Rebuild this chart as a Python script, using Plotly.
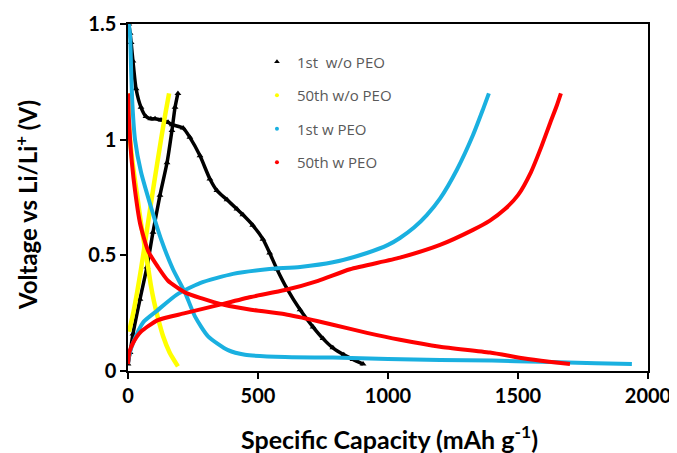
import plotly.graph_objects as go

# 1st cycle without PEO (black, triangles)
blk_dis_x = [3, 8, 12, 19, 31, 50, 69, 88, 104, 127, 154, 170, 212, 238, 277, 315, 342, 381, 419, 442, 480, 519, 545, 573, 612, 662, 712, 750, 788, 830, 865, 904]
blk_dis_y = [1.5, 1.46, 1.42, 1.34, 1.22, 1.14, 1.10, 1.09, 1.09, 1.085, 1.075, 1.065, 1.05, 1.01, 0.93, 0.83, 0.78, 0.74, 0.70, 0.675, 0.63, 0.57, 0.51, 0.44, 0.355, 0.265, 0.19, 0.14, 0.10, 0.07, 0.05, 0.03]
blk_chg_x = [0, 8, 19, 46, 73, 96, 123, 150, 169, 181, 192]
blk_chg_y = [0.03, 0.08, 0.16, 0.31, 0.45, 0.60, 0.76, 0.90, 1.04, 1.14, 1.20]

# 50th cycle without PEO (yellow)
yel_dis_x = [0, 2, 8, 20, 35, 50, 65, 77, 88, 100, 115, 135, 160, 192]
yel_dis_y = [1.2, 1.1, 1.0, 0.88, 0.76, 0.64, 0.53, 0.45, 0.37, 0.30, 0.23, 0.15, 0.08, 0.02]
yel_chg_x = [4, 20, 35, 50, 65, 85, 100, 127, 145, 158]
yel_chg_y = [0.17, 0.25, 0.34, 0.44, 0.55, 0.70, 0.81, 1.0, 1.12, 1.20]

# 1st cycle with PEO (blue)
blu_dis_x = [3, 8, 12, 17, 27, 50, 88, 127, 173, 219, 258, 308, 385, 450, 604, 788, 1000, 1200, 1400, 1585, 1800, 1938]
blu_dis_y = [1.5, 1.45, 1.30, 1.15, 1.0, 0.86, 0.71, 0.57, 0.44, 0.34, 0.235, 0.15, 0.09, 0.07, 0.06, 0.058, 0.052, 0.048, 0.045, 0.04, 0.033, 0.03]
blu_chg_x = [0, 5, 19, 58, 111, 188, 277, 404, 535, 662, 788, 919, 1000, 1046, 1100, 1150, 1200, 1265, 1327, 1365, 1388]
blu_chg_y = [0.03, 0.07, 0.12, 0.21, 0.26, 0.33, 0.38, 0.42, 0.44, 0.45, 0.47, 0.51, 0.545, 0.575, 0.62, 0.675, 0.745, 0.87, 1.02, 1.13, 1.20]

# 50th cycle with PEO (red)
red_dis_x = [0, 3, 8, 15, 27, 46, 77, 115, 154, 219, 281, 373, 473, 604, 731, 788, 919, 1046, 1200, 1392, 1519, 1620, 1700]
red_dis_y = [1.2, 1.1, 1.0, 0.9, 0.78, 0.64, 0.52, 0.45, 0.39, 0.34, 0.315, 0.285, 0.265, 0.245, 0.215, 0.20, 0.165, 0.135, 0.105, 0.08, 0.055, 0.04, 0.03]
red_chg_x = [0, 5, 19, 50, 115, 219, 346, 473, 604, 731, 854, 1046, 1200, 1327, 1392, 1450, 1500, 1550, 1590, 1623, 1650, 1665]
red_chg_y = [0.03, 0.08, 0.12, 0.17, 0.22, 0.25, 0.285, 0.32, 0.35, 0.39, 0.44, 0.49, 0.545, 0.61, 0.65, 0.70, 0.76, 0.86, 0.97, 1.07, 1.15, 1.20]

names = ["1st  w/o PEO", "50th w/o PEO", "1st w PEO", "50th w PEO"]
colors = ["#000000", "#FFFF00", "#1AB0E0", "#FF0000"]
x_title = "Specific Capacity (mAh g<sup>-1</sup>)"
y_title = "Voltage vs Li/Li<sup>+</sup> (V)"

fig = go.Figure()

series = [
    (blk_dis_x, blk_dis_y, colors[0]), (blk_chg_x, blk_chg_y, colors[0]),
    (yel_dis_x, yel_dis_y, colors[1]), (yel_chg_x, yel_chg_y, colors[1]),
    (blu_dis_x, blu_dis_y, colors[2]), (blu_chg_x, blu_chg_y, colors[2]),
    (red_dis_x, red_dis_y, colors[3]), (red_chg_x, red_chg_y, colors[3]),
]
for xs, ys, c in series:
    if c == "#000000":
        fig.add_trace(go.Scatter(x=xs, y=ys, mode="lines+markers",
                                 line=dict(color=c, width=3.5, shape="spline", smoothing=0.6),
                                 marker=dict(symbol="triangle-up", size=6, color=c),
                                 showlegend=False, hoverinfo="skip"))
    else:
        w = 4.5 if c == "#FFFF00" else 4
        fig.add_trace(go.Scatter(x=xs, y=ys, mode="lines",
                                 line=dict(color=c, width=w, shape="spline", smoothing=0.6),
                                 showlegend=False, hoverinfo="skip"))

# legend entries
syms = ["triangle-up", "circle", "circle", "circle"]
sizes = [5, 4, 4, 4]
for n, c, s, sz in zip(names, colors, syms, sizes):
    fig.add_trace(go.Scatter(x=[None], y=[None], mode="markers", name=n, legendgroup=n,
                             marker=dict(symbol=s, size=sz, color=c)))

W, H = 669, 445
ML, MR, MT, MB = 120, 29, 16, 82
PW, PH = W - ML - MR, H - MT - MB

fig.update_layout(
    width=W, height=H,
    margin=dict(l=ML, r=MR, t=MT, b=MB, autoexpand=False),
    paper_bgcolor="white", plot_bgcolor="white",
    font=dict(family="Lato, Open Sans, sans-serif", color="#000000"),
    showlegend=True,
    legend=dict(x=0.248, y=0.938, xanchor="left", yanchor="top", bgcolor="rgba(0,0,0,0)",
                font=dict(size=15, color="#595959", family="Open Sans, sans-serif"),
                tracegroupgap=11, itemwidth=30),
    annotations=[
        dict(text=x_title, xref="paper", yref="paper", x=(389 - 8 - ML) / PW, y=-(437 - 8 - MT - PH) / PH,
             xanchor="center", yanchor="middle", showarrow=False,
             font=dict(size=25, family="Lato, sans-serif", weight="bold", color="#000000")),
        dict(text=y_title, xref="paper", yref="paper", x=(26 - 8 - ML) / PW, y=1 - (205 - 8 - MT) / PH,
             xanchor="center", yanchor="middle", showarrow=False, textangle=-90,
             font=dict(size=24, family="Lato, sans-serif", weight="bold", color="#000000")),
    ],
)
fig.update_xaxes(range=[0, 2000], dtick=500, tick0=0, showgrid=False, zeroline=False, automargin=False,
                 showline=True, linecolor="#000000", linewidth=1.5, mirror=True,
                 ticks="outside", ticklen=6, tickwidth=1.5, tickcolor="#000000",
                 tickfont=dict(size=20, family="Lato, sans-serif", weight="bold"))
fig.update_yaxes(range=[0, 1.5], dtick=0.5, tick0=0, showgrid=False, zeroline=False, automargin=False,
                 showline=True, linecolor="#000000", linewidth=1.5, mirror=True,
                 ticks="outside", ticklen=6, tickwidth=1.5, tickcolor="#000000",
                 tickfont=dict(size=20, family="Lato, sans-serif", weight="bold"))

fig.write_html("out.html", post_script="document.documentElement.style.overflow='hidden';document.body.style.overflow='hidden';")
